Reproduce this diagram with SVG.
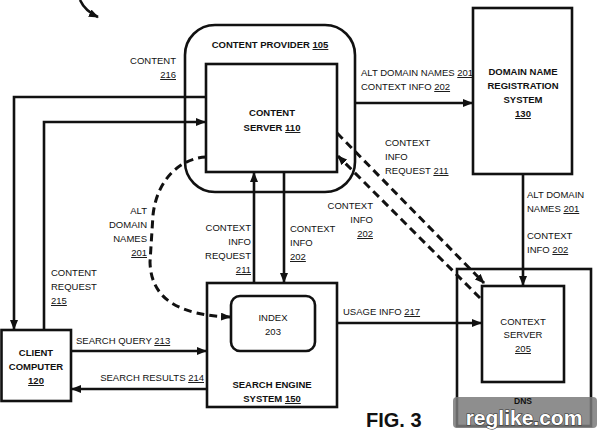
<svg xmlns="http://www.w3.org/2000/svg" width="598" height="433" viewBox="0 0 598 433">
<defs>
<style>
text{font-family:"Liberation Sans",Arial,sans-serif;font-size:9.5px;fill:#111}
.b{font-weight:bold}
.box{fill:#fff;stroke:#111;stroke-width:2.6}
.ln{fill:none;stroke:#111;stroke-width:2.6}
.ds{fill:none;stroke:#111;stroke-width:3;stroke-dasharray:8,5}
.u{text-decoration:underline}
.m{text-anchor:middle}
.e{text-anchor:end}
</style>
<marker id="ah" viewBox="0 0 10 8" refX="9" refY="4" markerWidth="10" markerHeight="8" orient="auto" markerUnits="userSpaceOnUse"><path d="M0,0 L10,4 L0,8 z" fill="#111"/></marker>
</defs>
<rect width="598" height="433" fill="#fff"/>

<g id="content-provider">
<rect class="box" x="185" y="25" width="170" height="167" rx="30"/>
<text class="b m" x="270" y="48">CONTENT PROVIDER <tspan class="u">105</tspan></text>
</g>
<g id="content-server">
<rect class="box" x="206" y="64" width="131" height="108"/>
<text class="b m" x="272" y="116">CONTENT</text>
<text class="b m" x="272" y="131">SERVER <tspan class="u">110</tspan></text>
</g>
<g id="domain-name-registration">
<rect class="box" x="473" y="8" width="99" height="166"/>
<text class="b m" x="523" y="75">DOMAIN NAME</text>
<text class="b m" x="523" y="89">REGISTRATION</text>
<text class="b m" x="523" y="103">SYSTEM</text>
<text class="b m" x="523" y="117"><tspan class="u">130</tspan></text>
</g>
<g id="search-engine">
<rect class="box" x="207" y="283" width="130" height="124"/>
<text class="b m" x="272" y="388">SEARCH ENGINE</text>
<text class="b m" x="272" y="402">SYSTEM <tspan class="u">150</tspan></text>
</g>
<g id="index">
<rect class="box" x="231" y="296" width="84" height="55" rx="9"/>
<text class="m" x="273" y="321">INDEX</text>
<text class="m" x="273" y="335">203</text>
</g>
<g id="client-computer">
<rect class="box" x="1.5" y="330" width="69.5" height="71"/>
<text class="b m" x="36" y="356">CLIENT</text>
<text class="b m" x="36" y="370">COMPUTER</text>
<text class="b m" x="36" y="384"><tspan class="u">120</tspan></text>
</g>
<g id="dns">
<rect class="box" x="457" y="269" width="134" height="157"/>
</g>
<g id="context-server">
<rect class="box" x="482" y="286" width="82" height="96"/>
<text class="m" x="523" y="325">CONTEXT</text>
<text class="m" x="523" y="338">SERVER</text>
<text class="m" x="523" y="352"><tspan class="u">205</tspan></text>
</g>

<g id="connectors">
<path class="ln" d="M206,97 L14,97 L14,329" marker-end="url(#ah)"/>
<path class="ln" d="M44,330 L44,122 L205,122" marker-end="url(#ah)"/>
<path class="ln" d="M71,351 L206,351" marker-end="url(#ah)"/>
<path class="ln" d="M207,389 L72,389" marker-end="url(#ah)"/>
<path class="ln" d="M254,283 L254,173" marker-end="url(#ah)"/>
<path class="ln" d="M284,172 L284,282" marker-end="url(#ah)"/>
<path class="ln" d="M355,103 L472,103" marker-end="url(#ah)"/>
<path class="ln" d="M523,174 L523,285" marker-end="url(#ah)"/>
<path class="ln" d="M337,323 L481,323" marker-end="url(#ah)"/>
<path class="ds" d="M206,157 C182,158 157,178 153,215 L150,262 C151,300 180,315 230,317" marker-end="url(#ah)"/>
<path class="ds" d="M337,133 L484,283" marker-end="url(#ah)"/>
<path class="ds" d="M480,298 L338,156" marker-end="url(#ah)"/>
<path class="ln" d="M80,0 Q85,11 98,17" stroke-width="1.6" marker-end="url(#ah)"/>
</g>

<g id="labels">
<text class="e" x="176" y="64">CONTENT</text>
<text class="e" x="176" y="78"><tspan class="u">216</tspan></text>
<text x="51" y="276">CONTENT</text>
<text x="51" y="290">REQUEST</text>
<text x="51" y="304"><tspan class="u">215</tspan></text>
<text class="e" x="147" y="214">ALT</text>
<text class="e" x="147" y="228">DOMAIN</text>
<text class="e" x="147" y="242">NAMES</text>
<text class="e" x="147" y="256"><tspan class="u">201</tspan></text>
<text class="e" x="251" y="231">CONTEXT</text>
<text class="e" x="251" y="245">INFO</text>
<text class="e" x="251" y="259">REQUEST</text>
<text class="e" x="251" y="273"><tspan class="u">211</tspan></text>
<text x="290" y="232">CONTEXT</text>
<text x="290" y="246">INFO</text>
<text x="290" y="260"><tspan class="u">202</tspan></text>
<text x="361" y="76">ALT DOMAIN NAMES <tspan class="u">201</tspan></text>
<text x="361" y="90">CONTEXT INFO <tspan class="u">202</tspan></text>
<text x="385" y="146">CONTEXT</text>
<text x="385" y="160">INFO</text>
<text x="385" y="174">REQUEST <tspan class="u">211</tspan></text>
<text class="e" x="373" y="209">CONTEXT</text>
<text class="e" x="373" y="223">INFO</text>
<text class="e" x="373" y="237"><tspan class="u">202</tspan></text>
<text x="527" y="198">ALT DOMAIN</text>
<text x="527" y="212">NAMES <tspan class="u">201</tspan></text>
<text x="527" y="239">CONTEXT</text>
<text x="527" y="253">INFO <tspan class="u">202</tspan></text>
<text x="343" y="315">USAGE INFO <tspan class="u">217</tspan></text>
<text x="76" y="344">SEARCH QUERY <tspan class="u">213</tspan></text>
<text class="e" x="204" y="381">SEARCH RESULTS <tspan class="u">214</tspan></text>
<text class="b" x="366" y="427" style="font-size:20px">FIG. 3</text>
</g>

<g id="watermark">
<rect x="453" y="397" width="144" height="31" rx="4" fill="#7a7a7a" opacity="0.85"/>
<text class="b m" x="523" y="404" style="font-size:8.5px">DNS</text>
<text class="b m" x="524" y="425" style="font-size:21px;fill:#fff;stroke:#333;stroke-width:1.2;paint-order:stroke">reglike.com</text>
</g>
</svg>
